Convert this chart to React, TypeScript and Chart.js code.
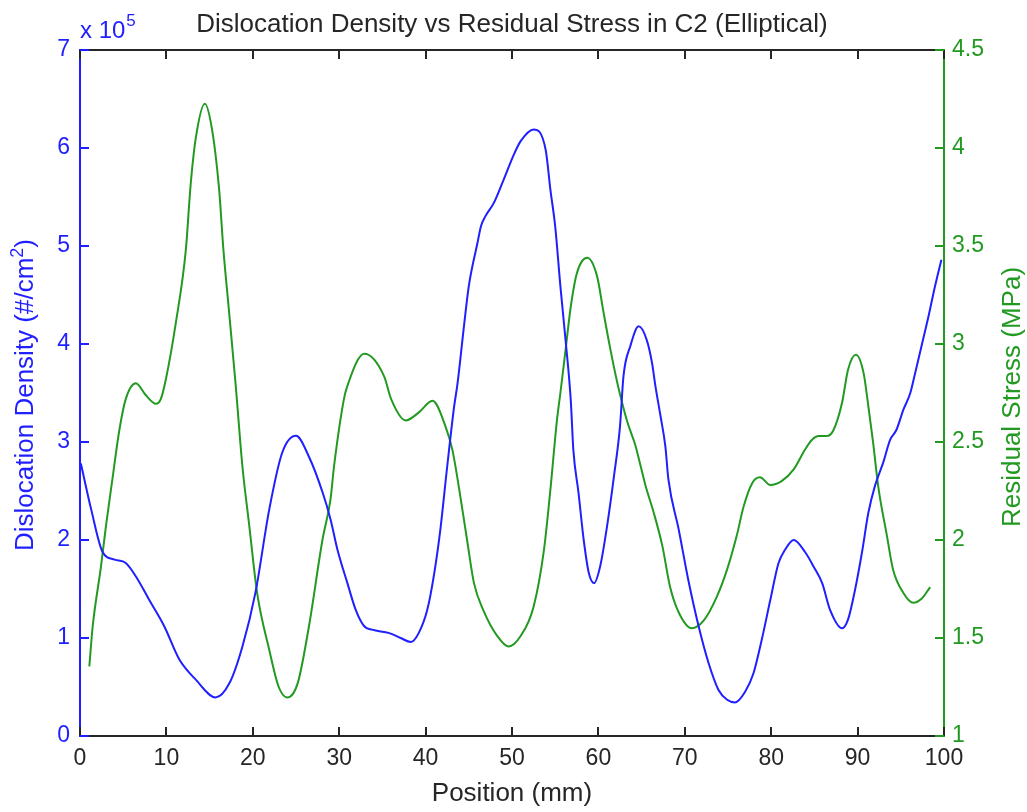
import React, { useEffect, useRef } from "react";
import { Chart, registerables } from "chart.js";

Chart.register(...registerables);

// Position (mm) and dislocation density (×10^5 #/cm²)
const densityX = [0.1, 1.3, 2.6, 4.0, 5.3, 6.7, 8.0, 9.75, 11.5, 13.4, 15.7, 17.3, 18.8, 20.3, 21.9, 23.4, 25.0, 26.5, 28.1, 29.0, 29.8, 30.95, 31.9, 32.9, 33.8, 35.8, 37.1, 38.3, 39.2, 40.2, 41.0, 41.7, 42.5, 43.3, 43.7, 44.4, 45.0, 46.0, 46.4, 46.9, 47.9, 49.05, 50.2, 51.0, 52.5, 53.9, 54.45, 55.0, 55.6, 56.2, 56.8, 57.1, 57.7, 58.3, 58.9, 59.5, 60.2, 61.0, 61.8, 62.5, 62.9, 63.7, 64.66, 65.6, 66.2, 66.6, 67.2, 67.75, 68.1, 69.3, 70.4, 71.6, 72.75, 73.9, 74.9, 75.8, 77.0, 77.95, 78.9, 79.9, 80.85, 81.6, 82.6, 83.9, 84.9, 85.9, 86.8, 88.2, 88.9, 89.7, 90.5, 91.25, 92.0, 93.0, 93.75, 94.5, 95.3, 96.1, 96.65, 97.4, 98.2, 98.96, 99.7];
const densityY = [2.78, 2.31, 1.88, 1.80, 1.765, 1.595, 1.39, 1.12, 0.78, 0.575, 0.394, 0.54, 0.914, 1.46, 2.31, 2.89, 3.064, 2.85, 2.48, 2.21, 1.90, 1.56, 1.29, 1.12, 1.085, 1.05, 1.0, 0.96, 1.05, 1.29, 1.66, 2.10, 2.75, 3.36, 3.60, 4.15, 4.59, 5.03, 5.20, 5.30, 5.44, 5.68, 5.93, 6.07, 6.19, 5.98, 5.57, 5.20, 4.59, 4.04, 3.43, 2.92, 2.48, 2.0, 1.66, 1.56, 1.73, 2.14, 2.65, 3.16, 3.67, 3.98, 4.18, 4.04, 3.81, 3.57, 3.26, 2.955, 2.62, 2.105, 1.595, 1.12, 0.745, 0.47, 0.37, 0.343, 0.455, 0.64, 0.98, 1.39, 1.765, 1.90, 2.0, 1.88, 1.73, 1.56, 1.29, 1.10, 1.19, 1.49, 1.87, 2.28, 2.55, 2.80, 3.02, 3.125, 3.33, 3.50, 3.70, 3.98, 4.28, 4.59, 4.86];

// Position (mm) and residual stress (MPa)
const stressX = [1.08, 1.47, 2.43, 3.0, 3.78, 4.55, 5.3, 6.47, 7.6, 8.8, 9.36, 9.94, 11.1, 12.25, 12.8, 13.4, 14.45, 15.3, 16.1, 16.6, 17.2, 18.0, 18.8, 19.6, 20.5, 21.9, 23.0, 24.0, 25.2, 26.5, 28.06, 29.0, 29.4, 30.55, 30.9, 32.9, 35.2, 36.0, 37.7, 39.2, 40.8, 42.3, 43.1, 43.85, 44.8, 45.6, 46.7, 48.3, 49.6, 51.0, 52.5, 53.7, 54.45, 55.2, 55.6, 56.2, 56.8, 57.5, 58.7, 59.85, 60.6, 61.4, 62.2, 63.3, 64.3, 64.9, 65.5, 66.4, 67.4, 68.3, 69.3, 70.8, 72.2, 73.7, 74.9, 76.0, 76.8, 77.8, 78.7, 79.9, 81.2, 82.6, 83.9, 84.7, 85.5, 86.4, 87.2, 88.2, 88.9, 89.8, 90.7, 91.25, 91.8, 92.4, 93.4, 94.1, 95.3, 96.45, 97.4, 98.4];
const stressY = [1.355, 1.56, 1.865, 2.07, 2.32, 2.56, 2.72, 2.80, 2.74, 2.695, 2.72, 2.82, 3.11, 3.48, 3.81, 4.05, 4.226, 4.09, 3.79, 3.48, 3.19, 2.80, 2.375, 2.07, 1.73, 1.44, 1.25, 1.197, 1.27, 1.56, 2.0, 2.21, 2.375, 2.72, 2.78, 2.95, 2.835, 2.72, 2.61, 2.65, 2.71, 2.58, 2.46, 2.27, 2.0, 1.78, 1.64, 1.51, 1.457, 1.51, 1.66, 1.95, 2.26, 2.61, 2.75, 2.97, 3.19, 3.36, 3.44, 3.345, 3.16, 2.97, 2.80, 2.61, 2.48, 2.375, 2.27, 2.14, 1.97, 1.76, 1.63, 1.55, 1.59, 1.71, 1.85, 2.02, 2.17, 2.29, 2.32, 2.28, 2.30, 2.36, 2.46, 2.51, 2.53, 2.53, 2.56, 2.70, 2.87, 2.945, 2.85, 2.68, 2.495, 2.27, 2.02, 1.85, 1.73, 1.68, 1.70, 1.76];

const xTicks = [0, 10, 20, 30, 40, 50, 60, 70, 80, 90, 100];
const leftTicks = [0, 1, 2, 3, 4, 5, 6, 7];
const rightTicks = [1, 1.5, 2, 2.5, 3, 3.5, 4, 4.5];

const titleText = "Dislocation Density vs Residual Stress in C2 (Elliptical)";
const xTitle = "Position (mm)";
const leftTitleA = "Dislocation Density (#/cm";
const leftTitleSup = "2";
const leftTitleB = ")";
const rightTitle = "Residual Stress (MPa)";
const expBase = "x 10";
const expSup = "5";

const BLUE = "#1f1fff";
const GREEN = "#229a22";
const BLACK = "#262626";
const FONT = '"Liberation Sans", Arial, sans-serif';

const decoPlugin = {
  id: "deco",
  afterDraw(chart: any) {
    const ctx = chart.ctx as CanvasRenderingContext2D;
    const { left, right, top, bottom } = chart.chartArea;
    const xs = chart.scales.x;
    const yl = chart.scales.y;
    const yr = chart.scales.y2;
    const tl = 9;
    ctx.save();
    ctx.lineWidth = 2;
    // top border
    ctx.strokeStyle = BLACK;
    ctx.beginPath();
    ctx.moveTo(left, top);
    ctx.lineTo(right, top);
    ctx.stroke();
    // x ticks (bottom & top, inward)
    ctx.beginPath();
    xTicks.forEach((v) => {
      const px = Math.round(xs.getPixelForValue(v));
      ctx.moveTo(px, bottom);
      ctx.lineTo(px, bottom - tl);
      ctx.moveTo(px, top);
      ctx.lineTo(px, top + tl);
    });
    ctx.stroke();
    // left ticks
    ctx.strokeStyle = BLUE;
    ctx.beginPath();
    leftTicks.forEach((v) => {
      const py = Math.round(yl.getPixelForValue(v));
      ctx.moveTo(left, py);
      ctx.lineTo(left + tl, py);
    });
    ctx.stroke();
    // right ticks
    ctx.strokeStyle = GREEN;
    ctx.beginPath();
    rightTicks.forEach((v) => {
      const py = Math.round(yr.getPixelForValue(v));
      ctx.moveTo(right, py);
      ctx.lineTo(right - tl, py);
    });
    ctx.stroke();

    // title
    ctx.fillStyle = BLACK;
    ctx.font = `26px ${FONT}`;
    ctx.textAlign = "center";
    ctx.textBaseline = "alphabetic";
    ctx.fillText(titleText, (left + right) / 2, 32);
    // x title
    ctx.fillText(xTitle, (left + right) / 2, 801);

    // exponent label
    ctx.fillStyle = BLUE;
    ctx.textAlign = "left";
    ctx.font = `24px ${FONT}`;
    ctx.fillText(expBase, left, 38);
    const wb = ctx.measureText(expBase).width;
    ctx.font = `17px ${FONT}`;
    ctx.fillText(expSup, left + wb + 1, 26);

    // left title
    const cy = (top + bottom) / 2;
    ctx.save();
    ctx.translate(33, cy + 2);
    ctx.rotate(-Math.PI / 2);
    ctx.font = `26px ${FONT}`;
    const wa = ctx.measureText(leftTitleA).width;
    const wc = ctx.measureText(leftTitleB).width;
    ctx.font = `18px ${FONT}`;
    const ws = ctx.measureText(leftTitleSup).width;
    const total = wa + ws + wc;
    const x0 = -total / 2;
    ctx.textAlign = "left";
    ctx.font = `26px ${FONT}`;
    ctx.fillText(leftTitleA, x0, 0);
    ctx.font = `18px ${FONT}`;
    ctx.fillText(leftTitleSup, x0 + wa, -10);
    ctx.font = `26px ${FONT}`;
    ctx.fillText(leftTitleB, x0 + wa + ws, 0);
    ctx.restore();

    // right title
    ctx.save();
    ctx.translate(1020, cy + 4);
    ctx.rotate(-Math.PI / 2);
    ctx.fillStyle = GREEN;
    ctx.font = `26px ${FONT}`;
    ctx.textAlign = "center";
    ctx.fillText(rightTitle, 0, 0);
    ctx.restore();

    ctx.restore();
  },
};

export default function App() {
  const ref = useRef<HTMLCanvasElement | null>(null);
  useEffect(() => {
    document.body.style.margin = "0";
    const canvas = ref.current;
    if (!canvas) return;
    const chart = new Chart(canvas, {
      type: "line",
      data: {
        datasets: [
          {
            label: "Dislocation Density",
            data: densityX.map((x, i) => ({ x, y: densityY[i] })),
            borderColor: BLUE,
            borderWidth: 2,
            pointRadius: 0,
            fill: false,
            cubicInterpolationMode: "monotone",
            yAxisID: "y",
          },
          {
            label: "Residual Stress",
            data: stressX.map((x, i) => ({ x, y: stressY[i] })),
            borderColor: GREEN,
            borderWidth: 2,
            pointRadius: 0,
            fill: false,
            cubicInterpolationMode: "monotone",
            yAxisID: "y2",
          },
        ],
      },
      options: {
        responsive: false,
        animation: false,
        devicePixelRatio: 1,
        layout: { padding: { top: 50, left: 0, right: 0, bottom: 0 } },
        plugins: {
          legend: { display: false },
          title: { display: false },
          tooltip: { enabled: false },
        },
        scales: {
          x: {
            type: "linear",
            position: "bottom",
            min: 0,
            max: 100,
            afterBuildTicks: (s: any) => {
              s.ticks = xTicks.map((v) => ({ value: v }));
            },
            afterFit: (s: any) => {
              s.height = 76;
            },
            grid: { display: false, drawTicks: false },
            border: { display: true, color: BLACK, width: 2 },
            ticks: {
              color: BLACK,
              font: { family: FONT, size: 23 },
              padding: 9,
              maxRotation: 0,
              autoSkip: false,
            },
          },
          y: {
            type: "linear",
            position: "left",
            min: 0,
            max: 7,
            afterBuildTicks: (s: any) => {
              s.ticks = leftTicks.map((v) => ({ value: v }));
            },
            afterFit: (s: any) => {
              s.width = 80;
            },
            grid: { display: false, drawTicks: false },
            border: { display: true, color: BLUE, width: 2 },
            ticks: {
              color: BLUE,
              font: { family: FONT, size: 23 },
              padding: 10,
              autoSkip: false,
            },
          },
          y2: {
            type: "linear",
            position: "right",
            min: 1,
            max: 4.5,
            afterBuildTicks: (s: any) => {
              s.ticks = rightTicks.map((v) => ({ value: v }));
            },
            afterFit: (s: any) => {
              s.width = 83;
            },
            grid: { display: false, drawTicks: false },
            border: { display: true, color: GREEN, width: 2 },
            ticks: {
              color: GREEN,
              font: { family: FONT, size: 23 },
              padding: 8,
              autoSkip: false,
              callback: (v: any) => String(v),
            },
          },
        },
      },
      plugins: [decoPlugin],
    });
    return () => chart.destroy();
  }, []);
  return (
    <div style={{ position: "absolute", left: 0, top: 0, width: 1027, height: 812 }}>
      <canvas ref={ref} width={1027} height={812} style={{ display: "block" }} />
    </div>
  );
}
